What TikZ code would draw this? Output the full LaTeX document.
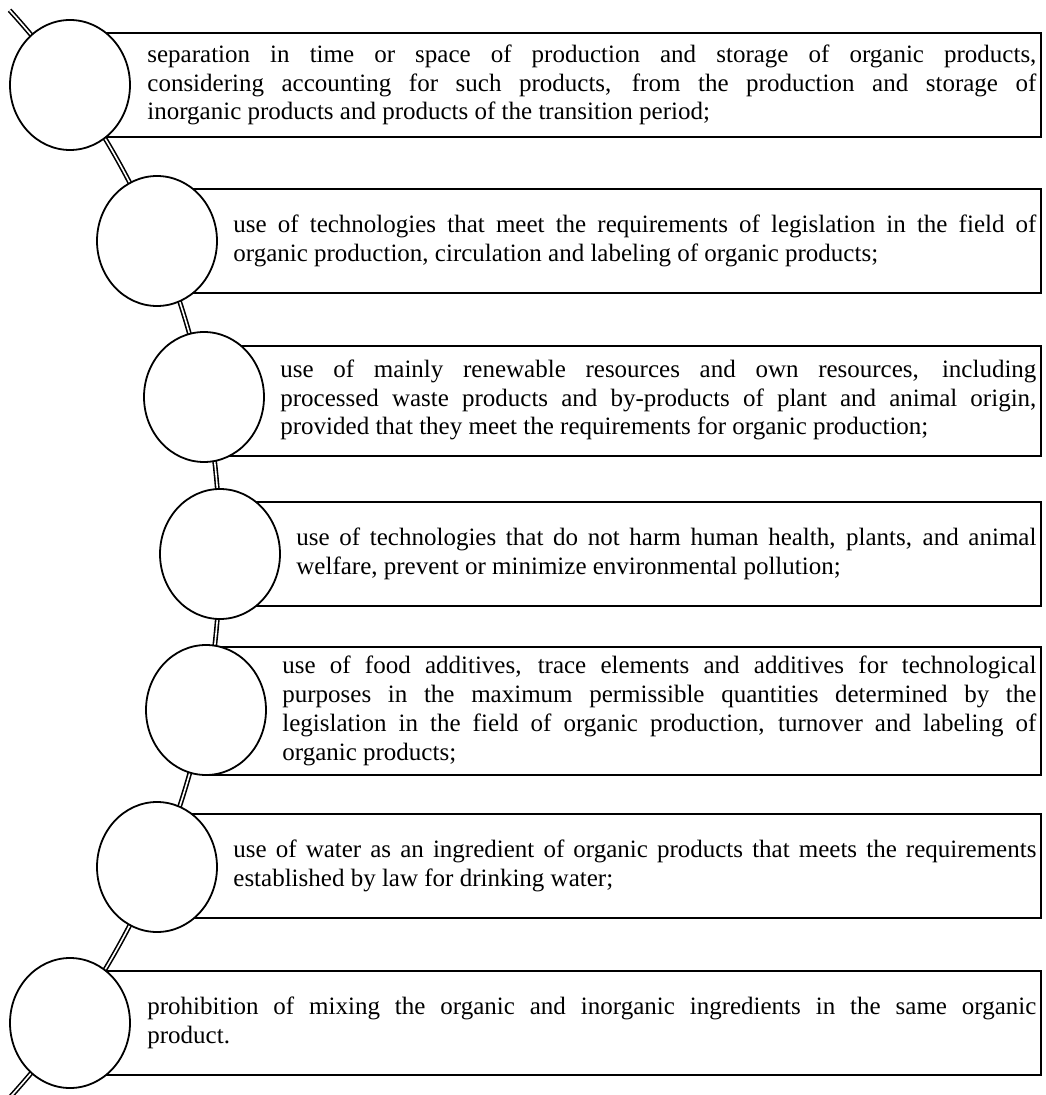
\documentclass[tikz,border=0pt]{standalone}
\usepackage{fontspec}
\setmainfont{Liberation Serif}
\usetikzlibrary{shapes.geometric}

\begin{document}
\tolerance=10000
\hyphenpenalty=10000
\begin{tikzpicture}[x=0.5pt, y=-0.5pt,
		track/.style={draw, double=white, double distance=0.8pt, line width=0.8pt},
		bar/.style={draw, fill=white, line width=0.9pt, anchor=east, minimum height=52pt, inner sep=0pt},
		bead/.style={draw, fill=white, ellipse, line width=0.9pt, minimum width=60pt, minimum height=65pt, inner sep=0pt},
		entry/.style={anchor=west, align=justify, inner sep=0pt, font=\fontsize{12.5}{14.375}\selectfont}]
	\useasboundingbox (0,0) rectangle (1045,1095);

	\coordinate (bend) at (-588,554);
	\draw[track] ([shift={(42.3:404pt)}]bend) arc[start angle=42.3, end angle=-42.4, radius=404pt];

	\node[bar, minimum width=486pt] (box1) at (1042,85) {};
	\node[bar, minimum width=442.5pt] (box2) at (1042,241) {};
	\node[bar, minimum width=419pt, minimum height=55pt] (box3) at (1042,401) {};
	\node[bar, minimum width=411pt] (box4) at (1042,554) {};
	\node[bar, minimum width=418pt, minimum height=64pt] (box5) at (1042,711) {};
	\node[bar, minimum width=442.5pt] (box6) at (1042,866) {};
	\node[bar, minimum width=486pt] (box7) at (1042,1023) {};

	\node[bead] (bead1) at (70,85) {};
	\node[bead] (bead2) at (157,241) {};
	\node[bead] (bead3) at (204,397) {};
	\node[bead] (bead4) at (220,554) {};
	\node[bead] (bead5) at (206,710) {};
	\node[bead] (bead6) at (157,867) {};
	\node[bead] (bead7) at (70,1023) {};

	\node[entry, text width=444.5pt] (text1) at (147,85) {separation in time or space of production and storage of organic products,\linebreak considering accounting for such products, from the production and storage of\linebreak inorganic products and products of the transition period;};
	\node[entry, text width=401.5pt] (text2) at (233,241) {use of technologies that meet the requirements of legislation in the field of\linebreak organic production, circulation and labeling of organic products;};
	\node[entry, text width=378pt] (text3) at (280,400) {use of mainly renewable resources and own resources, including\linebreak processed waste products and by-products of plant and animal origin,\linebreak provided that they meet the requirements for organic production;};
	\node[entry, text width=370pt] (text4) at (296,554) {use of technologies that do not harm human health, plants, and animal\linebreak welfare, prevent or minimize environmental pollution;};
	\node[entry, text width=377pt] (text5) at (282,711) {use of food additives, trace elements and additives for technological\linebreak purposes in the maximum permissible quantities determined by the\linebreak legislation in the field of organic production, turnover and labeling of\linebreak organic products;};
	\node[entry, text width=401.5pt] (text6) at (233,866) {use of water as an ingredient of organic products that meets the requirements\linebreak established by law for drinking water;};
	\node[entry, text width=444.5pt] (text7) at (147,1023) {prohibition of mixing the organic and inorganic ingredients in the same organic\linebreak product.};
\end{tikzpicture}
\end{document}
